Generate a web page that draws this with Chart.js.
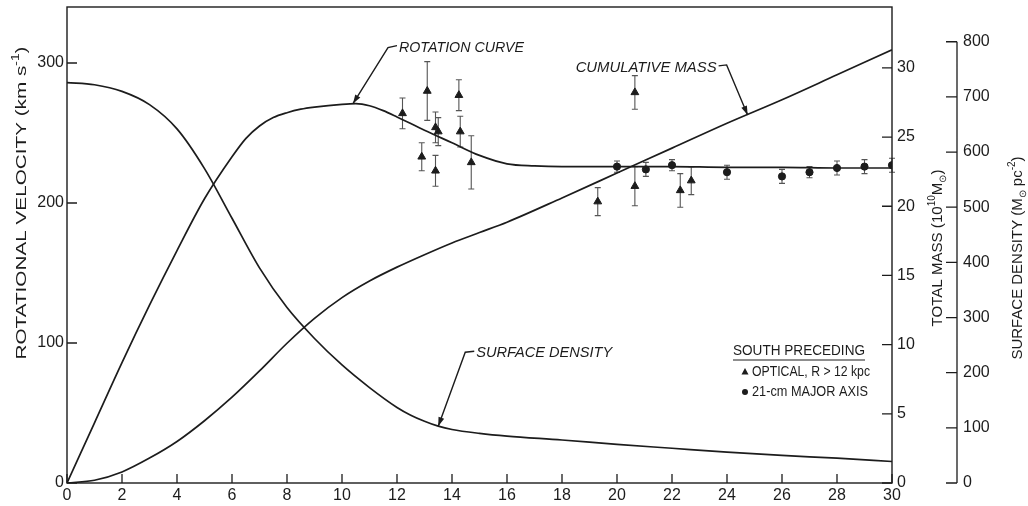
<!DOCTYPE html>
<html>
<head>
<meta charset="utf-8">
<script src="https://cdn.jsdelivr.net/npm/chart.js@4/dist/chart.umd.min.js"></script>
<style>
  html, body { margin: 0; padding: 0; background: #fff; }
  #wrap { width: 1028px; height: 506px; }
</style>
</head>
<body>
<div id="wrap"><canvas id="chart" width="1028" height="506"></canvas></div>
<script>
  const FONT = "'Liberation Sans', Arial, sans-serif";
  const INK = "#1c1c1c";

  // tick labels
  const xTicks = [0, 2, 4, 6, 8, 10, 12, 14, 16, 18, 20, 22, 24, 26, 28, 30];
  const velTicks = [0, 100, 200, 300];
  const massTicks = [0, 5, 10, 15, 20, 25, 30];
  const densityTicks = [0, 100, 200, 300, 400, 500, 600, 700, 800];

  // rotation curve (km/s)
  const rotR = [0, 1, 2, 3, 4, 5, 6, 6.5, 7, 7.5, 8, 8.5, 9, 10, 10.5, 11, 11.5, 12, 13, 14, 15, 16, 17, 18, 20, 22, 24, 26, 28, 30];
  const rotV = [0, 43, 86, 127, 166, 203, 233, 246, 255, 261, 264.5, 267, 268.5, 270.5, 271, 269.5, 266, 261.5, 252, 243, 234, 228, 226.5, 226, 226, 226, 225.5, 225.5, 225, 225];

  // cumulative mass (10^10 Msun)
  const massR = [0, 1, 2, 3, 4, 5, 6, 7, 8, 9, 10, 11, 12, 13, 14, 15, 16, 18, 20, 22, 24, 26, 28, 30];
  const massM = [0, 0.2, 0.8, 1.8, 3.0, 4.5, 6.2, 8.1, 10.1, 11.9, 13.4, 14.6, 15.6, 16.5, 17.35, 18.1, 18.85, 20.6, 22.4, 24.2, 26.0, 27.7, 29.5, 31.3];

  // surface density (Msun pc^-2)
  const densR = [0, 1, 2, 3, 4, 5, 6, 7, 8, 9, 10, 11, 12, 12.5, 13, 13.5, 14, 15, 16, 18, 20, 22, 24, 26, 28, 30];
  const densS = [726, 722, 710, 686, 642, 570, 480, 390, 318, 262, 214, 173, 137, 123, 112, 103, 97, 90, 85, 78, 70, 63, 56, 50, 45, 39];

  // optical, R > 12 kpc
  const optR = [12.2, 12.9, 13.1, 13.4, 13.4, 13.5, 14.25, 14.3, 14.7, 19.3, 20.65, 20.65, 22.3, 22.7];
  const optV = [264, 233, 280, 254, 223, 251, 277, 251, 229, 201, 279, 212, 209, 216];
  const optErr = [11, 10, 21, 11, 11, 10, 11, 11, 19, 10, 12, 14, 12, 10];

  // 21-cm major axis
  const hiR = [20.0, 21.05, 22.0, 24.0, 26.0, 27.0, 28.0, 29.0, 30.0];
  const hiV = [226, 224, 227, 222, 219, 222, 225, 226, 227];
  const hiErr = [4, 5, 4, 5, 5, 4, 5, 5, 5];

  const pairs = (xs, ys) => xs.map((x, i) => ({ x, y: ys[i] }));
  const fixTicks = (list) => (scale) => { scale.ticks = list.map((value) => ({ value })); };
  const tickFont = { family: FONT, size: 16 };

  function curve(xs, ys, axis) {
    return {
      data: pairs(xs, ys),
      yAxisID: axis,
      borderColor: INK,
      borderWidth: 1.7,
      pointRadius: 0,
      cubicInterpolationMode: "monotone",
      fill: false,
    };
  }

  function markers(xs, ys, style, radius) {
    return {
      data: pairs(xs, ys),
      yAxisID: "yVel",
      showLine: false,
      pointStyle: style,
      pointRadius: radius,
      pointBackgroundColor: INK,
      pointBorderColor: INK,
      pointBorderWidth: 1,
    };
  }

  // rich text: segments of [text, size, dy], stretched to a target length
  function richWidth(ctx, segs, italic) {
    return segs.reduce((w, [t, s]) => {
      ctx.font = `${italic ? "italic " : ""}${s}px ${FONT}`;
      return w + ctx.measureText(t).width;
    }, 0);
  }

  function drawRich(ctx, segs, cx, cy, angle, align, italic, length) {
    ctx.save();
    ctx.translate(cx, cy);
    ctx.rotate(angle);
    const total = richWidth(ctx, segs, italic);
    const k = length ? length / total : 1;
    ctx.scale(k, 1);
    ctx.fillStyle = INK;
    ctx.textBaseline = "middle";
    ctx.textAlign = "left";
    let x = align === "center" ? -total / 2 : align === "right" ? -total : 0;
    for (const [t, s, dy = 0] of segs) {
      ctx.font = `${italic ? "italic " : ""}${s}px ${FONT}`;
      ctx.fillText(t, x, dy);
      x += ctx.measureText(t).width;
    }
    ctx.restore();
    return total * k;
  }

  function arrowHead(ctx, fromX, fromY, toX, toY) {
    const ang = Math.atan2(toY - fromY, toX - fromX);
    const len = 9, half = 3;
    ctx.beginPath();
    ctx.moveTo(toX, toY);
    ctx.lineTo(toX - len * Math.cos(ang) + half * Math.sin(ang), toY - len * Math.sin(ang) - half * Math.cos(ang));
    ctx.lineTo(toX - len * Math.cos(ang) - half * Math.sin(ang), toY - len * Math.sin(ang) + half * Math.cos(ang));
    ctx.closePath();
    ctx.fill();
  }

  // callouts: tip in data units, elbow/hook as pixel offsets from the tip
  const callouts = [
    { text: "ROTATION CURVE", axis: "yVel", r: 10.4, v: 271, elbow: [35, -56], hook: [44, -58], side: "right", len: 125 },
    { text: "CUMULATIVE MASS", axis: "yMass", r: 24.75, v: 26.6, elbow: [-21, -50], hook: [-29, -49], side: "left", len: 141 },
    { text: "SURFACE DENSITY", axis: "yDens", r: 13.5, v: 103, elbow: [27, -74], hook: [36, -75], side: "right", len: 136 },
  ];

  const errorBars = {
    id: "errorBars",
    beforeDatasetsDraw(chart) {
      const { ctx, scales } = chart;
      const x = scales.x, y = scales.yVel;
      ctx.save();
      ctx.strokeStyle = "#555";
      ctx.lineWidth = 1.1;
      const draw = (rs, vs, es) => rs.forEach((r, i) => {
        const px = x.getPixelForValue(r);
        const top = y.getPixelForValue(vs[i] + es[i]);
        const bot = y.getPixelForValue(vs[i] - es[i]);
        ctx.beginPath();
        ctx.moveTo(px, top); ctx.lineTo(px, bot);
        ctx.moveTo(px - 3, top); ctx.lineTo(px + 3, top);
        ctx.moveTo(px - 3, bot); ctx.lineTo(px + 3, bot);
        ctx.stroke();
      });
      draw(optR, optV, optErr);
      draw(hiR, hiV, hiErr);
      ctx.restore();
    },
  };

  const decor = {
    id: "decor",
    afterDatasetsDraw(chart) {
      const { ctx, chartArea: a, scales } = chart;
      ctx.save();
      ctx.strokeStyle = INK;
      ctx.fillStyle = INK;
      ctx.lineWidth = 1.4;

      // frame
      ctx.strokeRect(a.left, a.top, a.right - a.left, a.bottom - a.top);

      ctx.lineWidth = 1.3;
      ctx.beginPath();
      xTicks.forEach((v) => {
        const px = scales.x.getPixelForValue(v);
        ctx.moveTo(px, a.bottom); ctx.lineTo(px, a.bottom - 9);
      });
      velTicks.forEach((v) => {
        const py = scales.yVel.getPixelForValue(v);
        ctx.moveTo(a.left, py); ctx.lineTo(a.left + 10, py);
      });
      massTicks.forEach((v) => {
        const py = scales.yMass.getPixelForValue(v);
        ctx.moveTo(a.right - 10, py); ctx.lineTo(a.right, py);
      });
      const d = scales.yDens;
      const dx = d.left;
      ctx.moveTo(dx, d.getPixelForValue(densityTicks[0]));
      ctx.lineTo(dx, d.getPixelForValue(densityTicks[densityTicks.length - 1]));
      densityTicks.forEach((v) => {
        const py = d.getPixelForValue(v);
        ctx.moveTo(dx - 11, py); ctx.lineTo(dx, py);
      });
      ctx.stroke();

      // axis titles
      const up = -Math.PI / 2;
      drawRich(ctx, [["ROTATIONAL VELOCITY (km s", 15], ["-1", 10, -6], [")", 15]],
        scales.yVel.left + 22, 203, up, "center", false, 313);
      drawRich(ctx, [["TOTAL MASS (10", 15], ["10", 10, -6], ["M", 15], ["\u2299", 10, 5], [")", 15]],
        scales.yMass.left + 46, 248, up, "center", false, 157);
      drawRich(ctx, [["SURFACE DENSITY (M", 15], ["\u2299", 10, 5], [" pc", 15], ["-2", 10, -6], [")", 15]],
        d.left + 61, 258, up, "center", false, 203);

      // callouts
      ctx.lineWidth = 1.4;
      callouts.forEach((c) => {
        const tx = scales.x.getPixelForValue(c.r);
        const ty = scales[c.axis].getPixelForValue(c.v);
        const ex = tx + c.elbow[0], ey = ty + c.elbow[1];
        const hx = tx + c.hook[0], hy = ty + c.hook[1];
        ctx.beginPath();
        ctx.moveTo(hx, hy); ctx.lineTo(ex, ey); ctx.lineTo(tx, ty);
        ctx.stroke();
        arrowHead(ctx, ex, ey, tx, ty);
        const gap = 2;
        drawRich(ctx, [[c.text, 15]], c.side === "right" ? hx + gap : hx - gap, hy + 2, 0,
          c.side === "right" ? "left" : "right", true, c.len);
      });

      // legend
      const lx = 733;
      const w = drawRich(ctx, [["SOUTH PRECEDING", 14]], lx, 351, 0, "left", false, 132);
      ctx.lineWidth = 1;
      ctx.beginPath();
      ctx.moveTo(lx, 360); ctx.lineTo(lx + w, 360);
      ctx.stroke();
      ctx.beginPath();
      ctx.moveTo(745, 368); ctx.lineTo(748.5, 374.5); ctx.lineTo(741.5, 374.5);
      ctx.closePath(); ctx.fill();
      drawRich(ctx, [["OPTICAL, R > 12 kpc", 14]], 752, 372, 0, "left", false, 118);
      ctx.beginPath();
      ctx.arc(745, 392, 3, 0, Math.PI * 2);
      ctx.fill();
      drawRich(ctx, [["21-cm MAJOR AXIS", 14]], 752, 392, 0, "left", false, 116);

      ctx.restore();
    },
  };

  const hiddenGrid = { display: false, drawTicks: false };
  const flatY = (width) => (s) => { s.width = width; s.paddingTop = 0; s.paddingBottom = 0; };

  new Chart(document.getElementById("chart"), {
    type: "line",
    data: {
      datasets: [
        curve(rotR, rotV, "yVel"),
        curve(massR, massM, "yMass"),
        curve(densR, densS, "yDens"),
        markers(optR, optV, "triangle", 4.5),
        markers(hiR, hiV, "circle", 3.6),
      ],
    },
    options: {
      responsive: false,
      animation: false,
      layout: { padding: { top: 7, left: 0, right: 0, bottom: 0 } },
      plugins: { legend: { display: false }, tooltip: { enabled: false } },
      scales: {
        x: {
          type: "linear", position: "bottom", min: 0, max: 30,
          grid: hiddenGrid, border: { display: false },
          afterBuildTicks: fixTicks(xTicks),
          afterFit: (s) => { s.height = 23; s.paddingLeft = 0; s.paddingRight = 0; },
          ticks: { font: tickFont, color: INK, padding: 3, maxRotation: 0 },
        },
        yVel: {
          type: "linear", position: "left", min: 0, max: 340,
          grid: hiddenGrid, border: { display: false },
          afterBuildTicks: fixTicks(velTicks),
          afterFit: flatY(67),
          ticks: { font: tickFont, color: INK, padding: 3 },
        },
        yMass: {
          type: "linear", position: "right", weight: 0, min: 0, max: 34.4,
          grid: hiddenGrid, border: { display: false },
          afterBuildTicks: fixTicks(massTicks),
          afterFit: flatY(65),
          ticks: { font: tickFont, color: INK, padding: 5 },
        },
        yDens: {
          type: "linear", position: "right", weight: 1, min: 0, max: 863,
          grid: hiddenGrid, border: { display: false },
          afterBuildTicks: fixTicks(densityTicks),
          afterFit: flatY(71),
          ticks: { font: tickFont, color: INK, padding: 6 },
        },
      },
    },
    plugins: [errorBars, decor],
  });
</script>
</body>
</html>
